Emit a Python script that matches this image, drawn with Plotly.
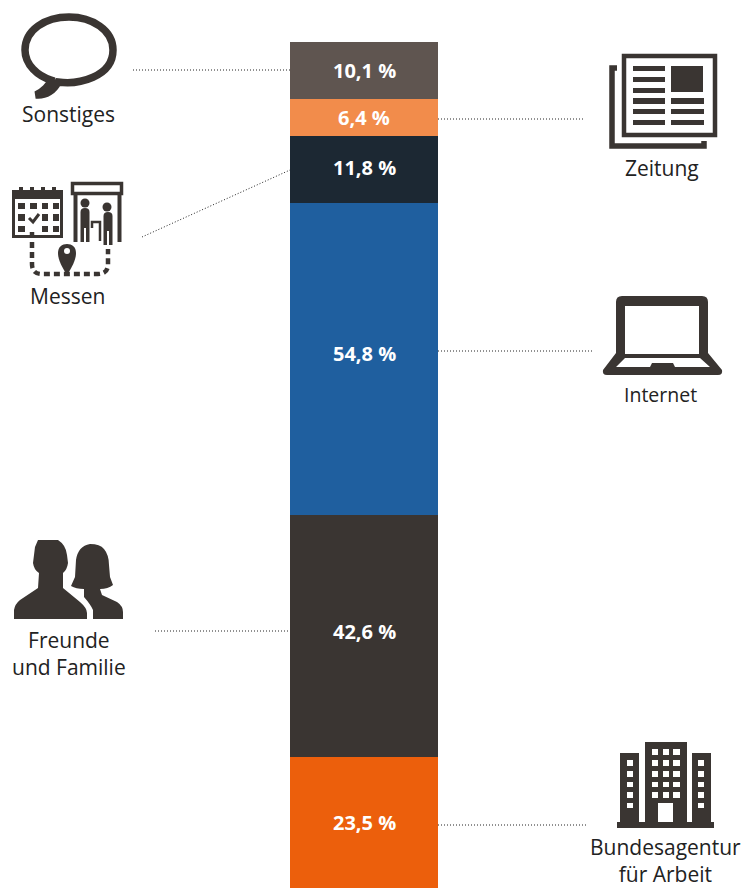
import plotly.graph_objects as go

# Data (bottom to top of the stack)
categories = ["Bundesagentur für Arbeit", "Freunde und Familie", "Internet", "Messen", "Zeitung", "Sonstiges"]
values = [23.5, 42.6, 54.8, 11.8, 6.4, 10.1]
colors = ["#ec5f0c", "#3a3532", "#1f5f9f", "#1c2833", "#f28c4b", "#5f5550"]
value_label_y = [822, 631, 353, 167, 117, 70]

# Outer labels: text, centre x, centre y, font size (page pixels)
labels = [
    ("Sonstiges", 68, 114, 21), ("Messen", 67, 296, 21), ("Freunde<br>und Familie", 68.5, 653.5, 21),
    ("Zeitung", 662, 168, 21), ("Internet", 660.5, 394, 19.5), ("Bundesagentur<br>für Arbeit", 665, 860, 21),
]
# Dotted leader lines
leaders = [
    (133, 70, 290, 70), (438, 119, 584, 119), (142, 237, 290, 170),
    (438, 351, 594, 351), (155, 631, 290, 631), (438, 825, 587, 825),
]

DARK = "#3a3532"
FONT = "Open Sans, sans-serif"
W, H = 743, 888
BAR_L, BAR_R, BAR_T = 290, 438, 42
PX_PER_UNIT = 5.69  # the stack runs slightly past the bottom edge of the page

fig = go.Figure()
for c, v, col in zip(categories, values, colors):
    fig.add_trace(go.Bar(
        x=[0], y=[v], name=c, width=1, marker=dict(color=col, line=dict(width=0)),
        showlegend=False, hoverinfo="name+y",
    ))
fig.add_trace(go.Scatter(x=[], y=[], xaxis="x2", yaxis="y2", showlegend=False))

shapes = []
def P(d, fill=DARK):
    shapes.append(dict(type="path", xref="x2", yref="y2", path=d, fillcolor=fill, line=dict(width=0)))
def R(x0, y0, x1, y1, fill=DARK):
    shapes.append(dict(type="rect", xref="x2", yref="y2", x0=x0, y0=y0, x1=x1, y1=y1,
                       fillcolor=fill, line=dict(width=0)))
def S(d, w, dash="solid"):
    shapes.append(dict(type="path", xref="x2", yref="y2", path=d, fillcolor="rgba(0,0,0,0)",
                       line=dict(color=DARK, width=w, dash=dash)))
def C(cx, cy, r, fill=DARK):
    shapes.append(dict(type="circle", xref="x2", yref="y2", x0=cx-r, y0=cy-r, x1=cx+r, y1=cy+r,
                       fillcolor=fill, line=dict(width=0)))

for x0, y0, x1, y1 in leaders:
    shapes.append(dict(type="line", xref="x2", yref="y2", x0=x0, y0=y0, x1=x1, y1=y1,
                       line=dict(color="#222222", width=1, dash="1px,2px")))

# Speech bubble
S("M 58 82 C 78 85 113 77 113 50 C 113 30 92 17 69 17 C 45 17 25 30 25 50 "
  "C 25 65 38 76 51 80 C 50 85 43 92 36 95 C 46 96 54 90 58 82 Z", 7.5)

# Calendar
R(12, 190, 63, 199)
for x in (19, 30, 41, 52):
    R(x, 187, x + 4, 191)
S("M 13.5 198 L 13.5 236.5 L 61.5 236.5 L 61.5 198", 3)
for r, (y0, y1) in enumerate([(203, 209), (214, 221), (226, 232)]):
    for c, (x0, x1) in enumerate([(18, 25), (30, 37), (42, 48), (53, 59)]):
        if (r, c) not in [(1, 1), (2, 1)]:
            R(x0, y0, x1, y1)
S("M 29 218 L 33 222 L 39 214", 3)

# Exhibition gate with people
S("M 72.5 183.5 L 121.5 183.5 L 121.5 193.5 L 72.5 193.5 Z", 3.5)
R(73.5, 193, 77.5, 242); R(117.5, 193, 121.5, 242)
C(85, 203, 4.5); C(107, 207, 4.5)
P("M 80.5 212 Q 80.5 208 85 208 Q 89.5 208 89.5 212 L 89.5 242 L 86 242 L 86 228 L 84 228 L 84 242 L 80.5 242 Z")
P("M 103.5 216 Q 103.5 212 108 212 Q 112.5 212 112.5 216 L 112.5 245 L 109 245 L 109 231 L 107 231 L 107 245 L 103.5 245 Z")
S("M 92 228 L 92 222 L 100 222 L 100 241", 2.5)

# Dashed route with pin
S("M 32 232 L 32 264 Q 32 274 42 274 L 98 274 Q 108 274 108 264 L 108 249", 4.5, "6px,4px")
P("M 67 275 C 62 267 58 260 58 253 C 58 247 62 244 67 244 C 72 244 76 247 76 253 C 76 260 72 267 67 275 Z")
C(67, 251, 3, "white")

# Two people
P("M 38 540 L 58 540 Q 66 545 67 555 L 68 563 Q 67 570 63 573 L 63 588 L 80 602 Q 87 608 87 613 "
  "L 87 619 L 14 619 L 14 610 Q 15 604 20 600 L 38 588 L 39 573 Q 34 570 33 563 L 35 547 Z")
P("M 90 544 Q 100 544 104 549 Q 109 555 109 565 L 110 577 L 113 585 Q 108 589 100 589 L 102 595 "
  "L 117 602 Q 123 606 123 612 L 123 619 L 93 619 L 93 610 Q 91 605 84 597 L 84 589 Q 76 589 71 586 "
  "L 75 577 L 76 560 Q 78 546 90 544 Z")

# Newspaper
S("M 624 56 L 715 56 L 715 135 L 624 135 Z", 4.5)
S("M 617 68 L 612 68 L 612 146 L 704 146 L 704 141", 5.5)
R(671, 66, 703, 92)
rows = [(66, 71), (77, 82), (88, 93), (98, 104), (109, 114), (120, 125)]
for y0, y1 in rows:
    R(633, y0, 665, y1)
for y0, y1 in rows[3:]:
    R(671, y0, 704, y1)

# Laptop
P("M 622 296 L 702 296 Q 708 296 708 302 L 708 353 L 722 370 Q 723 375 718 375 L 607 375 Q 602 375 603 370 "
  "L 616 353 L 616 302 Q 616 296 622 296 Z")
R(625, 306, 699, 354, "white")
P("M 625 358 L 616 367 L 650 367 L 652 363 L 673 363 L 675 367 L 710 367 L 700 358 Z", "white")

# Office building
R(617, 822, 714, 828)
R(645, 742, 687, 822); R(620, 753, 639, 822); R(692, 753, 711, 822)
brows = [(749, 755), (760, 766), (771, 777), (782, 787), (792, 798)]
for y0, y1 in brows:
    for x0, x1 in [(652, 658), (663, 669), (673, 680)]:
        R(x0, y0, x1, y1, "white")
R(658, 803, 673, 822, "white")
for y0, y1 in brows[1:] + [(803, 808)]:
    R(627, y0, 633, y1, "white")
    R(698, y0, 704, y1, "white")

annotations = [
    dict(text=t, x=x, y=y, xref="x2", yref="y2", showarrow=False, xanchor="center", yanchor="middle",
         font=dict(family=FONT, size=s, color="#222222"))
    for t, x, y, s in labels
]
annotations += [
    dict(text=f"{v:.1f} %".replace(".", ","), x=(BAR_L + BAR_R) / 2, y=y, xref="x2", yref="y2", showarrow=False,
         xanchor="center", yanchor="middle", font=dict(family=FONT, size=20, color="white", weight=700))
    for v, y in zip(values, value_label_y)
]

unit = BAR_R - BAR_L
total = sum(values)
fig.update_layout(
    width=W, height=H, margin=dict(l=0, r=0, t=0, b=0), barmode="stack", bargap=0,
    paper_bgcolor="white", plot_bgcolor="rgba(0,0,0,0)",
    xaxis=dict(range=[-(BAR_L + unit / 2) / unit, (W - BAR_L - unit / 2) / unit], visible=False, domain=[0, 1]),
    yaxis=dict(range=[total - (H - BAR_T) / PX_PER_UNIT, total], visible=False, domain=[0, (H - BAR_T) / H]),
    xaxis2=dict(range=[0, W], visible=False, domain=[0, 1], anchor="y2"),
    yaxis2=dict(range=[H, 0], visible=False, domain=[0, 1], anchor="x2"),
    shapes=shapes, annotations=annotations, hovermode="closest",
)
fig.write_html("out.html", post_script="document.body.style.margin='0';", config=dict(displayModeBar=False))
